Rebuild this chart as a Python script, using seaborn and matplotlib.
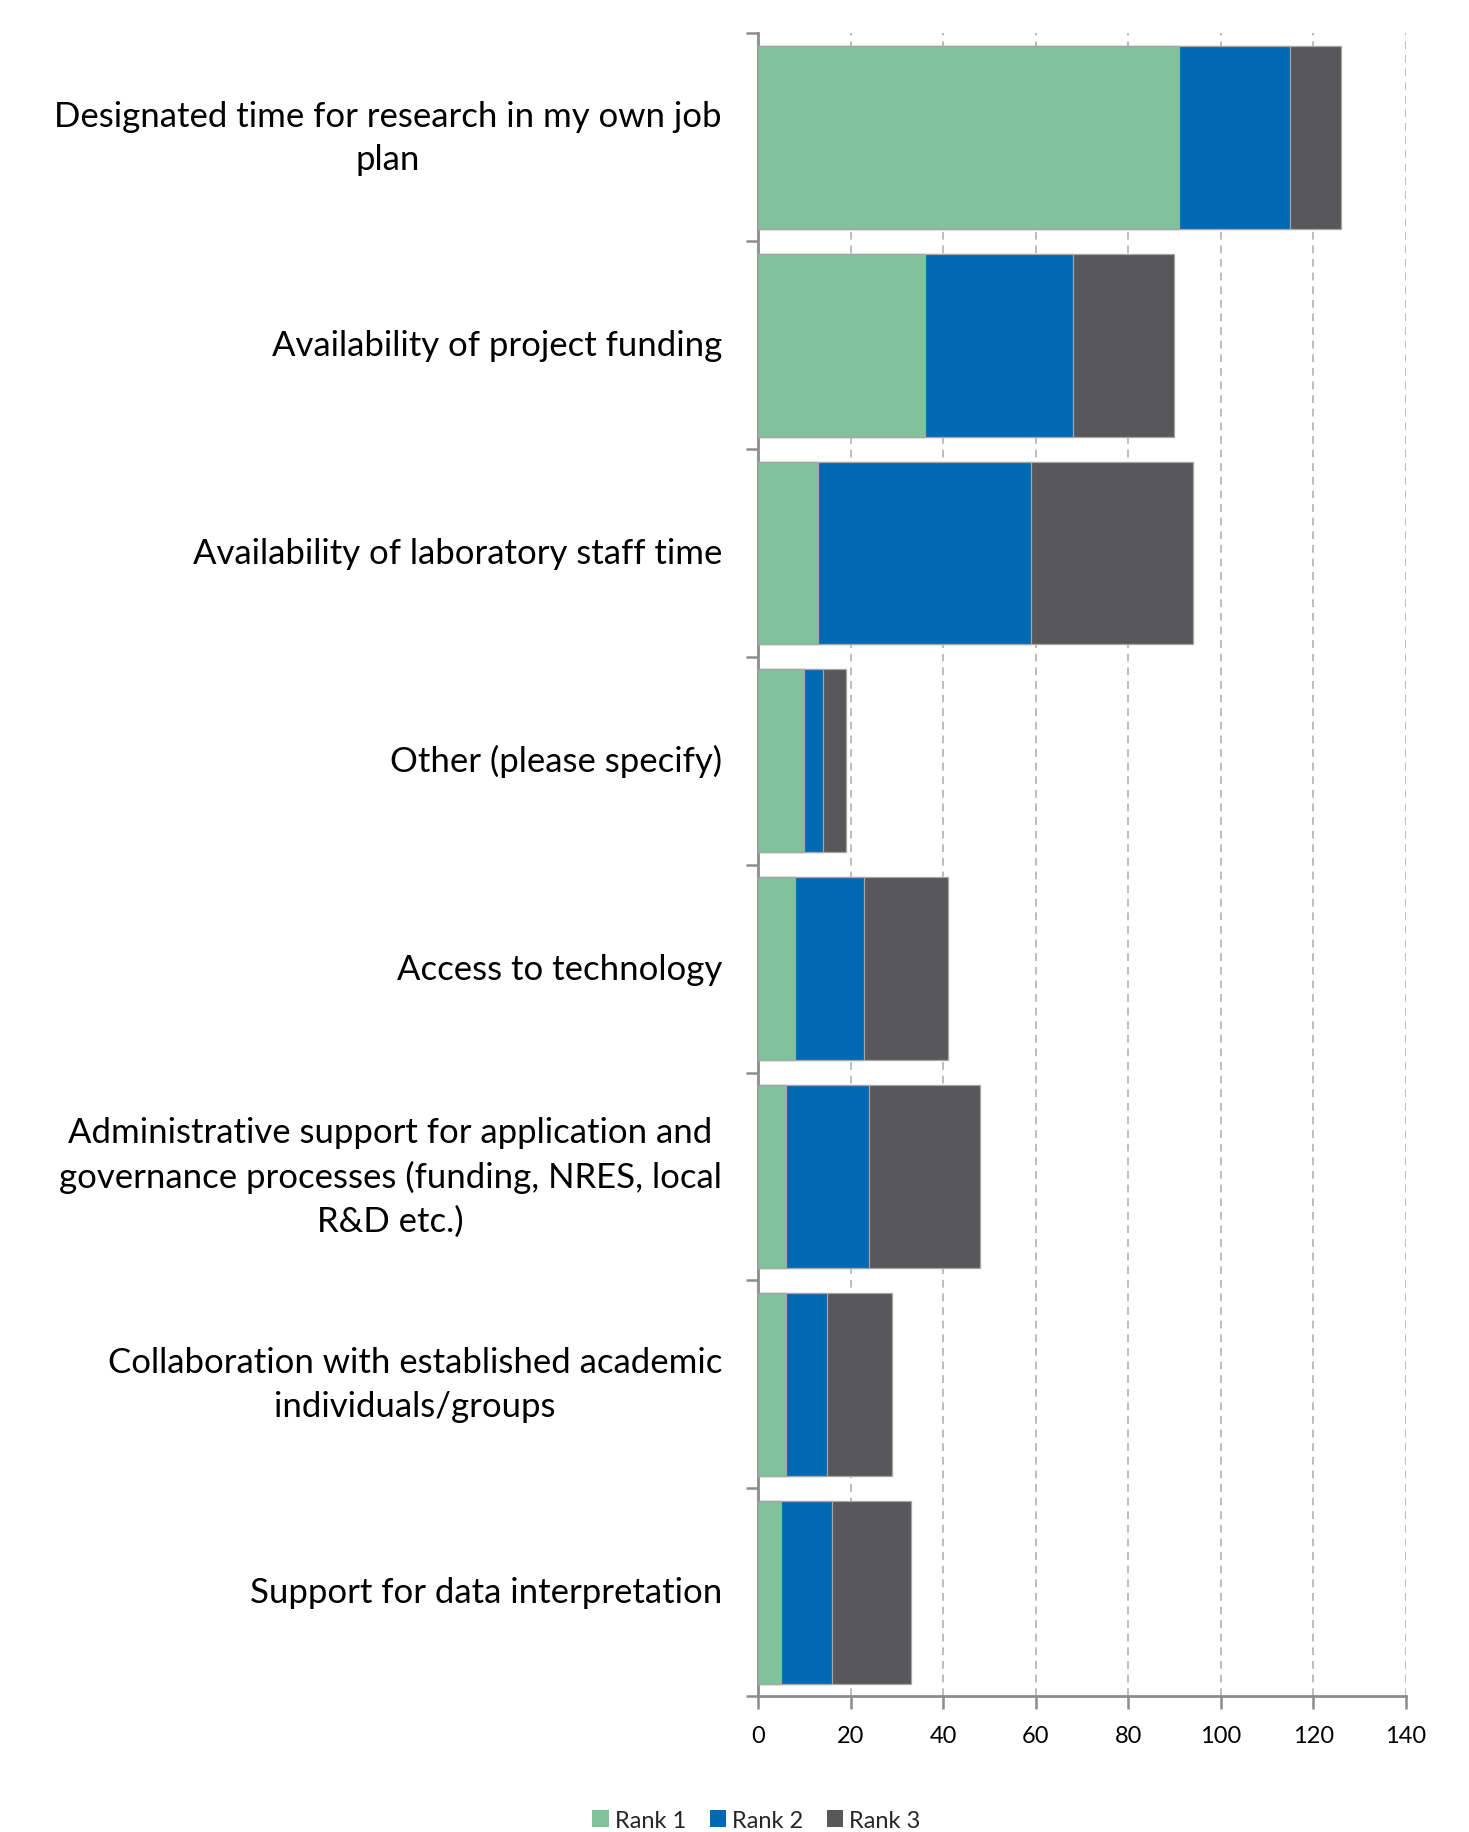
import matplotlib
matplotlib.use("Agg")
import matplotlib.pyplot as plt
import seaborn as sns
import numpy as np
import pandas as pd
from matplotlib.patches import Patch

categories = [
    "Designated time for research in my own job\nplan",
    "Availability of project funding",
    "Availability of laboratory staff time",
    "Other (please specify)",
    "Access to technology",
    "Administrative support for application and\ngovernance processes (funding, NRES, local\nR&D etc.)",
    "Collaboration with established academic\nindividuals/groups",
    "Support for data interpretation",
]
rank1 = [91, 36, 13, 10, 8, 6, 6, 5]
rank2 = [24, 32, 46, 4, 15, 18, 9, 11]
rank3 = [11, 22, 35, 5, 18, 24, 14, 17]
series_names = ["Rank 1", "Rank 2", "Rank 3"]
x_ticks = [0, 20, 40, 60, 80, 100, 120, 140]

colors = ["#80c29b", "#0069b4", "#58585a"]

df = pd.DataFrame({"category": categories, "r1": rank1, "r2": rank2, "r3": rank3})
df["c1"] = df["r1"]
df["c2"] = df["r1"] + df["r2"]
df["c3"] = df["r1"] + df["r2"] + df["r3"]

sns.set_theme(style="white")
plt.rcParams["font.family"] = ["Lato", "DejaVu Sans"]

fig = plt.figure(figsize=(14.69, 18.33), dpi=100)
ax = fig.add_axes([0.516, 0.0742, 0.441, 0.907])

# stacked bars: draw cumulative totals from the outermost segment inward
for col, color in zip(["c3", "c2", "c1"], colors[::-1]):
    sns.barplot(data=df, y="category", x=col, orient="h", color=color,
                width=0.88, edgecolor="#a6a6a6", linewidth=0.9,
                saturation=1, ax=ax, zorder=3)

ax.set_xlim(0, 140)
ax.set_ylim(len(categories) - 0.5, -0.5)
ax.set_xticks(x_ticks)
ax.set_xlabel("")
ax.set_ylabel("")

ax.xaxis.grid(True, linestyle=(0, (4, 3)), color="#bdbdbd", linewidth=1.4, zorder=0)
ax.yaxis.grid(False)
ax.set_axisbelow(True)

for side in ["top", "right"]:
    ax.spines[side].set_visible(False)
for side in ["left", "bottom"]:
    ax.spines[side].set_color("#8c8c8c")
    ax.spines[side].set_linewidth(2)

ax.tick_params(axis="x", direction="out", length=9, width=1.8, color="#8c8c8c",
               labelsize=17, labelcolor="black", pad=12, bottom=True)
ax.tick_params(axis="y", which="major", length=0, pad=26, labelsize=25,
               labelcolor="black")
ax.set_yticks(np.arange(-0.5, len(categories) + 0.5, 1), minor=True)
ax.tick_params(axis="y", which="minor", direction="out", length=9, width=1.8,
               color="#8c8c8c", left=True)
for lbl in ax.get_yticklabels():
    lbl.set_multialignment("center")
    lbl.set_linespacing(1.45)
    lbl.set_verticalalignment("center")

handles = [Patch(facecolor=c, edgecolor="none", label=n) for c, n in zip(colors, series_names)]
fig.legend(handles=handles, loc="center", bbox_to_anchor=(0.515, 0.0065), ncol=3,
           frameon=False, fontsize=17, handlelength=0.7, handleheight=0.7,
           handletextpad=0.25, columnspacing=1.0)

fig.savefig("out.png", dpi=100)
